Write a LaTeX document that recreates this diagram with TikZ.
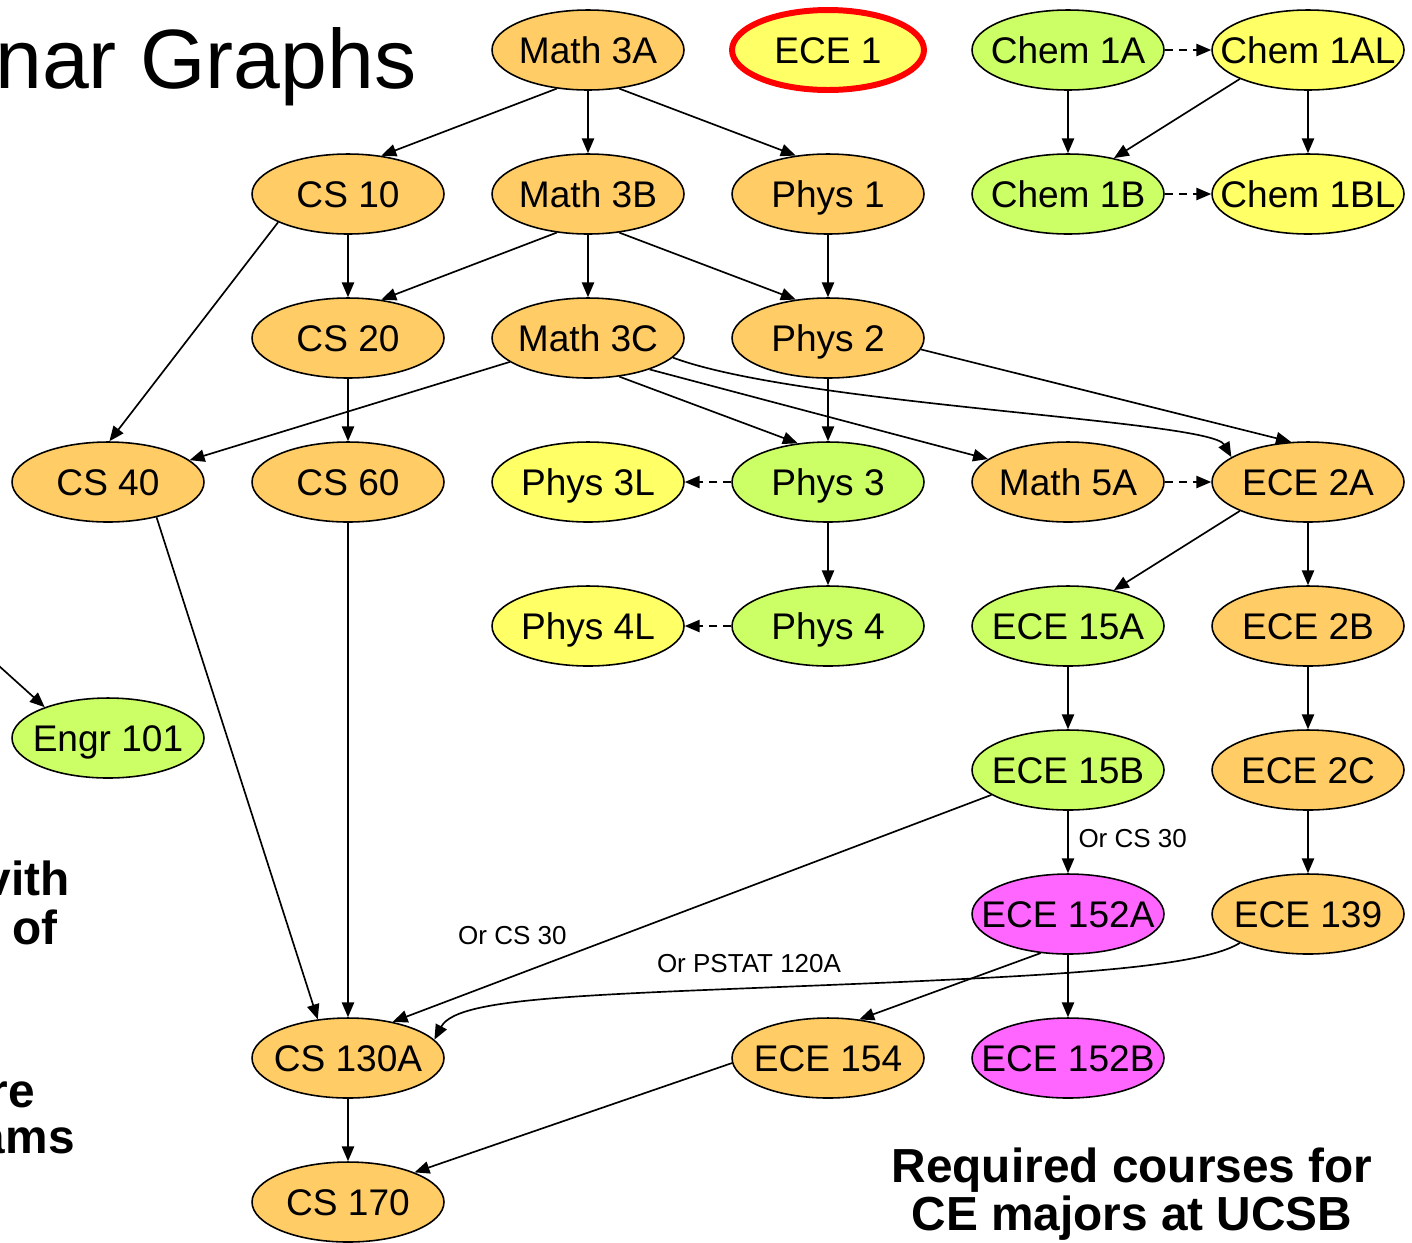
\documentclass[tikz,border=0pt]{standalone}
\usepackage{fontspec}
\setmainfont{Liberation Sans}
\usetikzlibrary{shapes.geometric,arrows.meta}
\definecolor{corange}{HTML}{FFCC66}
\definecolor{cgreen}{HTML}{CCFF66}
\definecolor{cyellow}{HTML}{FFFF66}
\definecolor{cmag}{HTML}{FF66FF}
\definecolor{cred}{HTML}{FF0000}
\newcommand\crstxt[1]{\makebox[0pt]{#1}}
\begin{document}
\begin{tikzpicture}[x=0.02cm,y=-0.02cm,
  crs/.style={ellipse, draw=black, line width=0.9pt, minimum width=3.84cm, minimum height=1.6cm,
    inner sep=0pt, font=\fontsize{21.1pt}{24pt}\selectfont, text height=16.2pt, text depth=1.2pt},
  orn/.style={crs, fill=corange},
  grn/.style={crs, fill=cgreen},
  yel/.style={crs, fill=cyellow},
  mag/.style={crs, fill=cmag},
  arr/.style={-{Triangle[length=8.5pt,width=7pt]}, line width=0.95pt},
  darr/.style={arr, dash pattern=on 4.5pt off 3.5pt},
  lbl/.style={inner sep=0pt, font=\fontsize{14.8pt}{17pt}\selectfont},
  bold/.style={inner sep=0pt, font=\fontsize{27.2pt}{30pt}\selectfont\bfseries},
]
\useasboundingbox (0,0) rectangle (1412,1242);
\clip (0,0) rectangle (1412,1242);

% title and side texts
\node[anchor=base west, inner sep=0pt, font=\fontsize{47.9pt}{52pt}\selectfont] (title) at (-5,88) {nar Graphs};
\node[bold, anchor=base east] (t1) at (70,895) {vith};
\node[bold, anchor=base east] (t2) at (58,944) {of};
\node[bold, anchor=base east] (t3) at (35,1107) {re};
\node[bold, anchor=base east] (t4) at (75,1153) {ams};
\node[bold, anchor=base] (req1) at (1132,1182) {Required courses for};
\node[bold, anchor=base] (req2) at (1132,1230) {CE majors at UCSB};

% nodes
\node[orn] (m3a) at (588,50) {\crstxt{Math 3A}};
\node[yel, draw=cred, line width=3.4pt] (ece1) at (828,50) {\crstxt{ECE 1}};
\node[grn] (c1a) at (1068,50) {\crstxt{Chem 1A}};
\node[yel] (c1al) at (1308,50) {\crstxt{Chem 1AL}};

\node[orn] (cs10) at (348,194) {\crstxt{CS 10}};
\node[orn] (m3b) at (588,194) {\crstxt{Math 3B}};
\node[orn] (p1) at (828,194) {\crstxt{Phys 1}};
\node[grn] (c1b) at (1068,194) {\crstxt{Chem 1B}};
\node[yel] (c1bl) at (1308,194) {\crstxt{Chem 1BL}};

\node[orn] (cs20) at (348,338) {\crstxt{CS 20}};
\node[orn] (m3c) at (588,338) {\crstxt{Math 3C}};
\node[orn] (p2) at (828,338) {\crstxt{Phys 2}};

\node[orn] (cs40) at (108,482) {\crstxt{CS 40}};
\node[orn] (cs60) at (348,482) {\crstxt{CS 60}};
\node[yel] (p3l) at (588,482) {\crstxt{Phys 3L}};
\node[grn] (p3) at (828,482) {\crstxt{Phys 3}};
\node[orn] (m5a) at (1068,482) {\crstxt{Math 5A}};
\node[orn] (e2a) at (1308,482) {\crstxt{ECE 2A}};

\node[yel] (p4l) at (588,626) {\crstxt{Phys 4L}};
\node[grn] (p4) at (828,626) {\crstxt{Phys 4}};
\node[grn] (e15a) at (1068,626) {\crstxt{ECE 15A}};
\node[orn] (e2b) at (1308,626) {\crstxt{ECE 2B}};

\node[grn] (engr) at (108,738) {\crstxt{Engr 101}};

\node[grn] (e15b) at (1068,770) {\crstxt{ECE 15B}};
\node[orn] (e2c) at (1308,770) {\crstxt{ECE 2C}};

\node[mag] (e152a) at (1068,914) {\crstxt{ECE 152A}};
\node[orn] (e139) at (1308,914) {\crstxt{ECE 139}};

\node[orn] (cs130a) at (348,1058) {\crstxt{CS 130A}};
\node[orn] (e154) at (828,1058) {\crstxt{ECE 154}};
\node[mag] (e152b) at (1068,1058) {\crstxt{ECE 152B}};

\node[orn] (cs170) at (348,1202) {\crstxt{CS 170}};

% connectors
\draw[arr] (m3a.231) -- (cs10.49);
\draw[arr] (m3a) -- (m3b);
\draw[arr] (m3a.309) -- (p1.130);
\draw[arr] (c1a) -- (c1b);
\draw[darr] (c1a) -- (c1al);
\draw[arr] (c1al.203) -- (c1b.38);
\draw[arr] (c1al) -- (c1bl);
\draw[darr] (c1b) -- (c1bl);
\draw[arr] (cs10) -- (cs20);
\draw[arr] (cs10.202) -- (cs40.88);
\draw[arr] (m3b.231) -- (cs20.49);
\draw[arr] (m3b) -- (m3c);
\draw[arr] (m3b.309) -- (p2.130);
\draw[arr] (p1) -- (p2);
\draw[arr] (cs20) -- (cs60);
\draw[arr] (m3c.197) -- (cs40.15);
\draw[arr] (m3c.309) -- (p3.128);
\draw[arr] (m3c.333) -- (m5a.164);
\draw[arr] (m3c.347) .. controls (800,405) and (1210,420) .. (e2a.162);
\draw[arr] (p2) -- (p3);
\draw[arr] (p2.353) -- (e2a.113);
\draw[darr] (p3) -- (p3l);
\draw[arr] (p3) -- (p4);
\draw[darr] (p4) -- (p4l);
\draw[darr] (m5a) -- (e2a);
\draw[arr] (e2a.203) -- (e15a.38);
\draw[arr] (e2a) -- (e2b);
\draw[arr] (e15a) -- (e15b);
\draw[arr] (e2b) -- (e2c);
\draw[arr] (e2c) -- (e139);
\draw[arr] (e15b) -- node[lbl, pos=0.45, anchor=west, xshift=5.5pt] (lblcs30a) {Or CS 30} (e152a);
\draw[arr] (e15b.198) -- node[lbl, pos=0.8, yshift=23.5pt] (lblcs30b) {Or CS 30} (cs130a.39);
\draw[arr] (e152a) -- (e152b);
\draw[arr] (e152a.235) -- (e154.51);
\draw[arr] (e139.203) .. controls (1200,968) and (1050,975) .. (900,982)
  .. controls (600,995) and (458,995) .. (cs130a.12);
\node[lbl] (lblpstat) at (749,964) {Or PSTAT 120A};
\draw[arr] (cs40.324) -- (cs130a.128);
\draw[arr] (cs60) -- (cs130a);
\draw[arr] (cs130a) -- (cs170);
\draw[arr] (e154.183) -- (cs170.24);
\coordinate (engrsrc) at (-12,656);
\draw[arr] (engrsrc) -- (engr.154);
\end{tikzpicture}
\end{document}
